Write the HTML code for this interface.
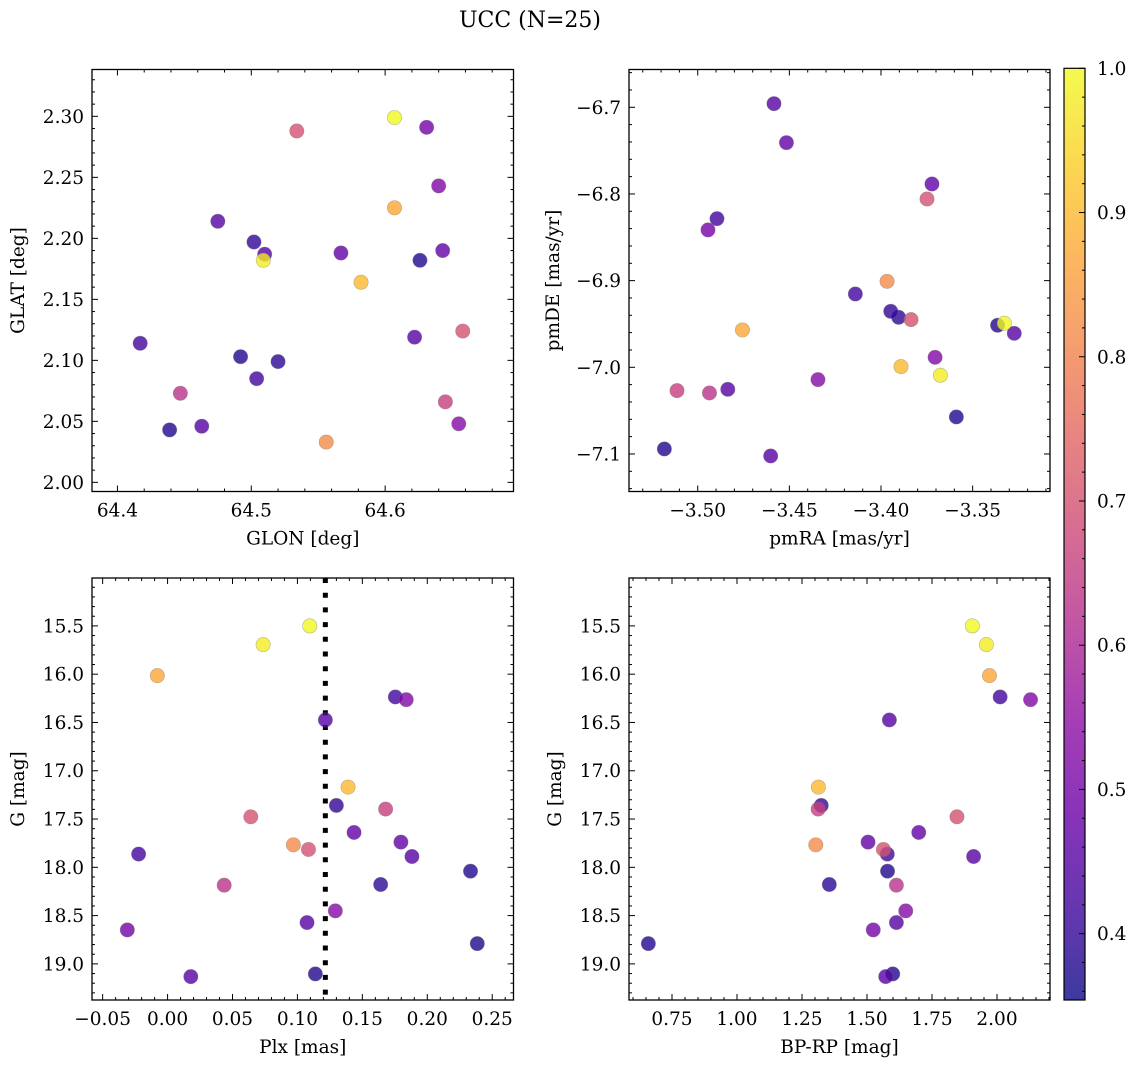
<!DOCTYPE html>
<html><head><meta charset="utf-8">
<style>
html,body{margin:0;padding:0;background:#fff;}
svg text{font-family:"DejaVu Serif","Liberation Serif",serif;fill:#000;}
</style></head>
<body>
<svg id="fig" width="1136" height="1068" viewBox="0 0 1136 1068" xmlns="http://www.w3.org/2000/svg">
<text x="530" y="27" font-size="22" text-anchor="middle">UCC (N=25)</text>
</svg>
<script>
// star data (one entry per member)
const glon = [64.607,64.509,64.607,64.504,64.640,64.510,64.582,64.502,64.645,64.534,64.567,64.643,64.556,64.658,64.622,64.417,64.626,64.520,64.447,64.655,64.475,64.631,64.439,64.463,64.492];
const glat = [2.299,2.182,2.225,2.085,2.243,2.187,2.164,2.197,2.066,2.288,2.188,2.190,2.033,2.124,2.119,2.114,2.182,2.099,2.073,2.048,2.214,2.291,2.043,2.046,2.103];
const pmra = [-3.3327,-3.3676,-3.4756,-3.4895,-3.3705,-3.4584,-3.3891,-3.3947,-3.5113,-3.3749,-3.4516,-3.3722,-3.3967,-3.3836,-3.3273,-3.4140,-3.3364,-3.3904,-3.4936,-3.4344,-3.4836,-3.4944,-3.3589,-3.4602,-3.5182];
const pmde = [-6.9492,-7.0092,-6.9569,-6.8285,-6.9885,-6.6958,-6.9992,-6.9354,-7.0269,-6.8058,-6.7408,-6.7885,-6.9008,-6.9450,-6.9608,-6.9154,-6.9515,-6.9423,-7.0296,-7.0142,-7.0254,-6.8415,-7.0573,-7.1023,-7.0942];
const plx  = [0.1095,0.0736,-0.0079,0.1754,0.1838,0.1215,0.1390,0.1300,0.1679,0.0641,0.1436,0.1797,0.0969,0.1085,0.1882,-0.0223,0.2333,0.1641,0.0436,0.1292,0.1074,-0.0310,0.2385,0.0179,0.1138];
const gmag = [15.50,15.694,16.015,16.236,16.264,16.474,17.169,17.359,17.397,17.477,17.639,17.739,17.767,17.815,17.888,17.863,18.040,18.178,18.185,18.451,18.572,18.648,18.790,19.132,19.104];
const bprp = [1.905,1.959,1.971,2.012,2.129,1.586,1.313,1.324,1.312,1.846,1.699,1.504,1.303,1.563,1.910,1.578,1.579,1.355,1.613,1.649,1.613,1.524,0.659,1.572,1.599];
const prob = [1.0,0.98,0.87,0.42,0.52,0.45,0.9,0.4,0.66,0.7,0.47,0.47,0.82,0.7,0.45,0.42,0.38,0.39,0.63,0.53,0.45,0.5,0.38,0.45,0.38];
const plxMedian = 0.1215;
const cbTicks = [0.4,0.5,0.6,0.7,0.8,0.9,1.0];

const NS = "http://www.w3.org/2000/svg";
const svg = document.getElementById('fig');
const stops = ["#0d0887","#41049d","#6a00a8","#8f0da4","#b12a90","#cc4778","#e16462","#f2844b","#fca636","#fcce25","#f0f921"];
const vmin = 0.354, vmax = 1.0;
function hex(h){return [parseInt(h.substr(1,2),16),parseInt(h.substr(3,2),16),parseInt(h.substr(5,2),16)];}
function plasma(t){t=Math.max(0,Math.min(1,t));const f=t*10,i=Math.min(9,Math.floor(f)),u=f-i;const a=hex(stops[i]),b=hex(stops[i+1]);return 'rgb('+a.map((v,k)=>Math.round(v+(b[k]-v)*u)).join(',')+')';}
function el(tag,attrs,parent){const e=document.createElementNS(NS,tag);for(const k in attrs)e.setAttribute(k,attrs[k]);(parent||svg).appendChild(e);return e;}
function fmt(v,d){return (v<0?'\u2212':'')+Math.abs(v).toFixed(d);}
const FS = 18.5;

function panel(cfg){
  const g=el('g',{});
  
  
  const {L,T,W,H}=cfg;
  const sx=v=>L+(v-cfg.x0)/(cfg.x1-cfg.x0)*W;
  const sy=cfg.invert? v=>T+(v-cfg.y0)/(cfg.y1-cfg.y0)*H : v=>T+H-(v-cfg.y0)/(cfg.y1-cfg.y0)*H;
  const ymin=Math.min(cfg.y0,cfg.y1), ymax=Math.max(cfg.y0,cfg.y1);
  const tk=el('g',{stroke:'#000','stroke-width':1},g);
  
  
  for(let k=Math.ceil(cfg.x0/cfg.xmin-1e-6);k*cfg.xmin<=cfg.x1+1e-9;k++){
    const v=k*cfg.xmin, x=sx(v);
    const major=Math.abs(v/cfg.xmaj-Math.round(v/cfg.xmaj))<1e-6;
    const len=major?6:3;
    el('line',{x1:x,y1:T+H,x2:x,y2:T+H-len},tk);el('line',{x1:x,y1:T,x2:x,y2:T+len},tk);
    if(major){const t=el('text',{x:x,y:T+H+25,'font-size':FS,'text-anchor':'middle',stroke:'none'},g);t.textContent=fmt(v,cfg.xd);
      }
  }
  for(let k=Math.ceil(ymin/cfg.ymin-1e-6);k*cfg.ymin<=ymax+1e-9;k++){
    const v=k*cfg.ymin, y=sy(v);
    const major=Math.abs(v/cfg.ymaj-Math.round(v/cfg.ymaj))<1e-6;
    const len=major?6:3;
    el('line',{x1:L,y1:y,x2:L+len,y2:y},tk);el('line',{x1:L+W,y1:y,x2:L+W-len,y2:y},tk);
    if(major){const t=el('text',{x:L-8,y:y+6.5,'font-size':FS,'text-anchor':'end',stroke:'none'},g);t.textContent=fmt(v,cfg.yd);
      }
  }
  const cid='clip-'+cfg.name;
  const cp=el('clipPath',{id:cid},g);el('rect',{x:L,y:T,width:W,height:H},cp);
  const pts=el('g',{'clip-path':'url(#'+cid+')'},g);
  
  
  if(cfg.vline!==undefined){
    const ln=el('line',{x1:sx(cfg.vline),x2:sx(cfg.vline),y1:T,y2:T+H,stroke:'#000','stroke-width':5,'stroke-dasharray':'5 9.7'},pts);
    
    
  }
  const order=prob.map((p,i)=>i).sort((a,b)=>prob[a]-prob[b]);
  order.forEach(i=>{
    const c=el('circle',{cx:sx(cfg.xs[i]),cy:sy(cfg.ys[i]),r:7.2,fill:plasma((prob[i]-vmin)/(vmax-vmin)),'fill-opacity':0.8,stroke:'#777','stroke-opacity':0.5,'stroke-width':0.6},pts);
    
    
  });
  const fr=el('rect',{x:L,y:T,width:W,height:H,fill:'none',stroke:'#000','stroke-width':1.3},g);
  
  
  const xl=el('text',{x:L+W/2,y:T+H+53,'font-size':FS,'text-anchor':'middle'},g);xl.textContent=cfg.xlabel;
  
  const yx=L-cfg.ylabOff, yy=T+H/2;
  const yl=el('text',{x:yx,y:yy,'font-size':FS,'text-anchor':'middle',transform:'rotate(-90 '+yx+' '+yy+')'},g);yl.textContent=cfg.ylabel;
  
}

panel({name:'glon-glat-panel',L:92,T:69.5,W:421.5,H:422,x0:64.381,x1:64.6959,y0:1.9925,y1:2.3384,xmaj:0.1,xmin:0.02,ymaj:0.05,ymin:0.01,xd:1,yd:2,xs:glon,ys:glat,xlabel:'GLON [deg]',ylabel:'GLAT [deg]',ylabOff:68});
panel({name:'pm-panel',L:629,T:69.5,W:421,H:422,x0:-3.5375,x1:-3.3078,y0:-7.1433,y1:-6.6564,xmaj:0.05,xmin:0.01,ymaj:0.1,ymin:0.02,xd:2,yd:1,xs:pmra,ys:pmde,xlabel:'pmRA [mas/yr]',ylabel:'pmDE [mas/yr]',ylabOff:70});
panel({name:'plx-g-panel',L:92,T:578,W:421.5,H:422,x0:-0.0582,x1:0.2664,y0:15.004,y1:19.374,invert:true,xmaj:0.05,xmin:0.01,ymaj:0.5,ymin:0.1,xd:2,yd:1,xs:plx,ys:gmag,xlabel:'Plx [mas]',ylabel:'G [mag]',ylabOff:68,vline:plxMedian});
panel({name:'cmd-panel',L:629,T:578,W:421,H:422,x0:0.5846,x1:2.2038,y0:15.004,y1:19.374,invert:true,xmaj:0.25,xmin:0.05,ymaj:0.5,ymin:0.1,xd:2,yd:1,xs:bprp,ys:gmag,xlabel:'BP-RP [mag]',ylabel:'G [mag]',ylabOff:68});

(function(){
  const L=1064,T=68.3,W=21,B=1000;
  const g=el('g',{});
  
  
  const defs=el('defs',{},g);
  const lg=el('linearGradient',{id:'cbgrad',x1:0,y1:1,x2:0,y2:0},defs);
  for(let i=0;i<=20;i++){el('stop',{offset:i/20,'stop-color':plasma(i/20),'stop-opacity':0.8},lg);}
  el('rect',{x:L,y:T,width:W,height:B-T,fill:'url(#cbgrad)',stroke:'#000','stroke-width':1.2},g);
  const sy=v=>B-(v-vmin)/(vmax-vmin)*(B-T);
  for(let k=18;k<=50;k++){const v=k*0.02;if(v<vmin)continue;const y=sy(v);
    const major=Math.abs(v*10-Math.round(v*10))<1e-6;
    el('line',{x1:L+W,x2:L+W-(major?6:3),y1:y,y2:y,stroke:'#000','stroke-width':1},g);}
  cbTicks.forEach(v=>{const t=el('text',{x:L+W+12,y:sy(v)+6.5,'font-size':FS},g);t.textContent=v.toFixed(1);
    });
})();
</script>
</body></html>
